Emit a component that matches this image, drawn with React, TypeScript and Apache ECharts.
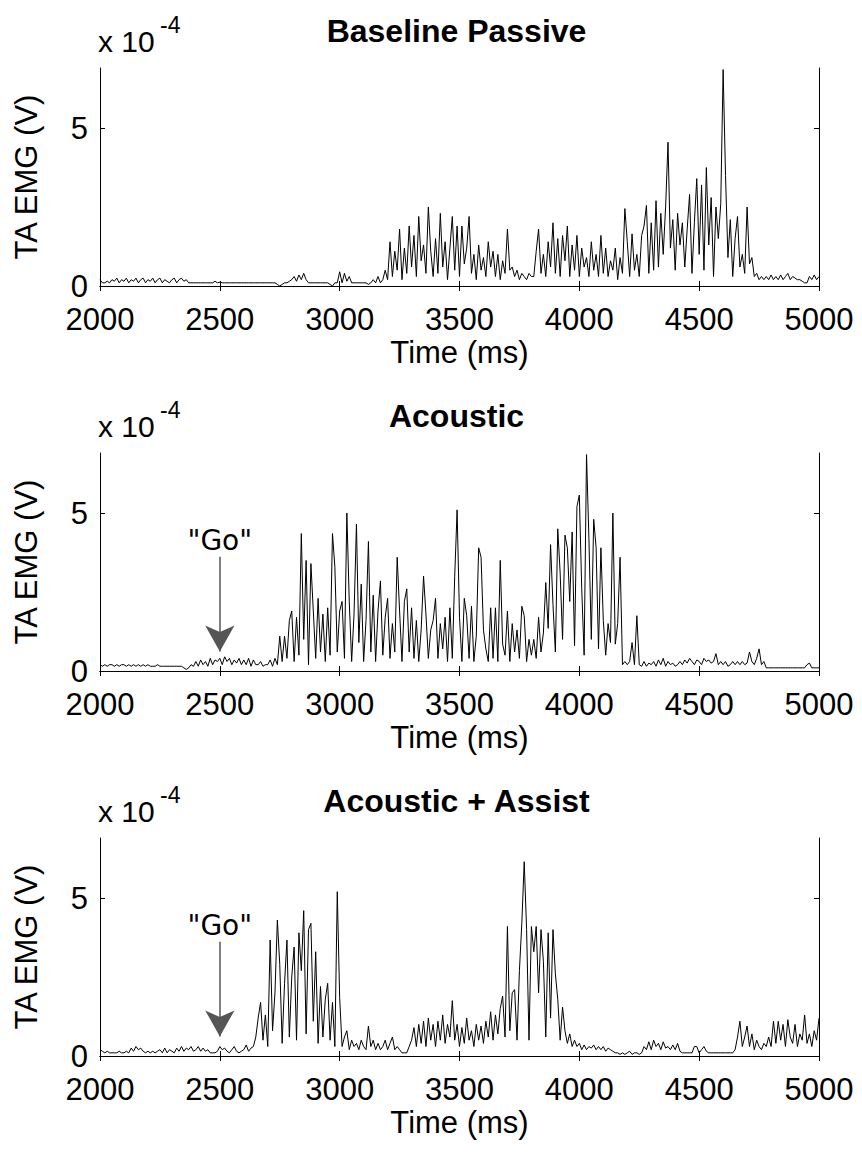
import React, { useEffect, useRef } from "react";
import * as echarts from "echarts";

const timeStart = 2000;
const timeStep = 10;
const xTicks = [2000, 2500, 3000, 3500, 4000, 4500, 5000];
const yTicks = [0, 5];
const yMax = 6.9;
const panelTitles = ["Baseline Passive", "Acoustic", "Acoustic + Assist"];
const goTime = 2500;
const goPanels = [false, true, true];

// TA EMG in units of 1e-4 V, sampled every 10 ms from 2000 to 5000 ms
const baselinePassive = [
  0.2, 0.1, 0.1, 0.15, 0.1, 0.2, 0.15, 0.25, 0.1, 0.2,
  0.15, 0.25, 0.1, 0.2, 0.15, 0.25, 0.1, 0.2, 0.25, 0.1,
  0.2, 0.15, 0.25, 0.1, 0.2, 0.25, 0.1, 0.2, 0.15, 0.1,
  0.2, 0.25, 0.1, 0.2, 0.25, 0.15, 0.2, 0.1, 0.1, 0.1,
  0.1, 0.1, 0.1, 0.1, 0.1, 0.1, 0.1, 0.1, 0.15, 0.1,
  0.12, 0.1, 0.1, 0.1, 0.1, 0.1, 0.1, 0.1, 0.1, 0.1,
  0.1, 0.1, 0.1, 0.1, 0.1, 0.1, 0.1, 0.1, 0.1, 0.1,
  0.1, 0.1, 0.1, 0.1, 0.05, 0.0, 0.05, 0.1, 0.1, 0.15,
  0.2, 0.3, 0.15, 0.35, 0.2, 0.4, 0.2, 0.1, 0.1, 0.1,
  0.1, 0.1, 0.1, 0.1, 0.1, 0.1, 0.05, 0.0, 0.1, 0.1,
  0.45, 0.1, 0.4, 0.15, 0.3, 0.1, 0.1, 0.1, 0.1, 0.1,
  0.1, 0.1, 0.05, 0.1, 0.2, 0.1, 0.3, 0.1, 0.2, 0.5,
  0.2, 1.4, 0.3, 1.1, 0.5, 1.8, 0.2, 1.2, 0.4, 1.9,
  0.6, 1.6, 0.3, 2.2, 0.8, 1.3, 0.4, 2.5, 1.1, 0.3,
  1.5, 0.4, 2.3, 0.6, 1.4, 0.2, 1.2, 2.2, 0.5, 1.9,
  0.3, 1.9, 0.7, 1.2, 2.2, 0.4, 1.0, 0.2, 1.3, 0.5,
  0.9, 0.3, 1.4, 0.6, 1.1, 0.3, 1.0, 0.2, 0.8, 0.4,
  1.8, 0.5, 0.6, 0.3, 0.5, 0.2, 0.4, 0.3, 0.2, 0.4,
  0.3, 0.3, 1.1, 1.8, 0.4, 1.0, 0.3, 1.4, 0.6, 2.0,
  0.4, 1.5, 0.3, 1.6, 0.8, 1.9, 0.3, 1.3, 0.5, 1.6,
  0.3, 1.2, 0.6, 0.9, 0.3, 1.4, 0.5, 1.0, 0.3, 1.6,
  0.4, 1.2, 0.3, 0.8, 0.5, 1.2, 0.2, 0.9, 0.4, 2.45,
  1.4, 0.3, 1.65, 0.5, 1.0, 0.3, 1.6, 1.9, 2.55, 0.4,
  2.0, 0.5, 2.7, 0.6, 2.3, 1.0, 2.5, 4.55, 1.2, 2.1,
  0.5, 2.3, 1.3, 2.0, 0.6, 1.8, 2.9, 0.4, 2.0, 3.4,
  1.0, 3.2, 0.5, 3.75, 1.3, 2.8, 0.3, 2.5, 1.5, 2.6,
  6.85, 3.5, 0.9, 2.1, 0.3, 1.5, 2.2, 0.6, 1.0, 0.4,
  2.5, 0.7, 0.9, 0.3, 0.4, 0.2, 0.3, 0.2, 0.3, 0.2,
  0.35, 0.2, 0.3, 0.2, 0.35, 0.2, 0.3, 0.4, 0.2, 0.3,
  0.25, 0.2, 0.2, 0.15, 0.1, 0.1, 0.3, 0.2, 0.35, 0.2,
  0.3,
];

const acoustic = [
  0.2, 0.15, 0.2, 0.15, 0.2, 0.2, 0.15, 0.2, 0.15, 0.2,
  0.2, 0.15, 0.2, 0.15, 0.2, 0.15, 0.2, 0.15, 0.2, 0.15,
  0.2, 0.15, 0.15, 0.15, 0.2, 0.15, 0.15, 0.15, 0.15, 0.15,
  0.15, 0.15, 0.15, 0.15, 0.15, 0.1, 0.05, 0.1, 0.2, 0.15,
  0.3, 0.15, 0.35, 0.2, 0.3, 0.15, 0.4, 0.2, 0.35, 0.3,
  0.4, 0.2, 0.45, 0.3, 0.4, 0.2, 0.35, 0.25, 0.4, 0.2,
  0.35, 0.2, 0.4, 0.15, 0.35, 0.2, 0.2, 0.3, 0.15, 0.2,
  0.2, 0.35, 0.15, 0.4, 0.2, 1.1, 0.3, 1.1, 0.4, 1.6,
  1.9, 0.3, 1.7, 0.5, 4.35, 1.0, 3.5, 0.2, 3.4, 1.9,
  0.4, 2.3, 0.6, 1.8, 0.3, 2.0, 0.5, 4.35, 3.3, 0.6,
  1.9, 2.2, 0.4, 5.0, 2.2, 0.3, 1.8, 4.65, 0.9, 2.75,
  0.3, 1.6, 4.1, 0.6, 2.4, 0.3, 1.9, 2.85, 0.5, 1.7,
  2.3, 0.4, 1.5, 0.6, 3.6, 1.9, 0.3, 2.2, 2.6, 0.6,
  2.0, 0.4, 1.6, 0.3, 1.3, 3.0, 1.8, 0.4, 1.3, 1.6,
  2.3, 0.4, 1.5, 0.7, 1.7, 0.3, 2.0, 0.4, 3.0, 5.1,
  1.7, 0.3, 2.3, 1.75, 0.4, 2.05, 0.3, 1.1, 3.9, 3.6,
  1.3, 0.7, 0.3, 2.0, 0.4, 2.0, 0.3, 3.5, 0.85, 0.5,
  1.9, 0.3, 1.5, 0.6, 1.3, 0.4, 2.05, 1.75, 0.3, 1.0,
  0.5, 1.0, 0.4, 1.7, 0.6, 1.2, 2.8, 1.35, 4.0, 2.1,
  0.6, 4.5, 3.1, 1.0, 4.3, 3.9, 2.2, 4.4, 0.8, 5.2,
  5.57, 2.6, 0.5, 6.85, 4.2, 1.0, 4.8, 3.9, 0.7, 3.9,
  1.6, 0.5, 1.5, 0.9, 5.0, 0.85, 1.5, 3.6, 0.2, 0.3,
  0.2, 0.3, 0.9, 0.2, 1.75, 0.2, 0.15, 0.3, 0.15, 0.25,
  0.2, 0.3, 0.15, 0.35, 0.2, 0.4, 0.15, 0.3, 0.2, 0.25,
  0.15, 0.2, 0.3, 0.2, 0.35, 0.25, 0.4, 0.3, 0.2, 0.35,
  0.3, 0.2, 0.4, 0.3, 0.35, 0.25, 0.3, 0.55, 0.2, 0.3,
  0.2, 0.3, 0.15, 0.2, 0.3, 0.2, 0.3, 0.2, 0.3, 0.2,
  0.25, 0.6, 0.3, 0.2, 0.4, 0.7, 0.2, 0.3, 0.1, 0.1,
  0.1, 0.1, 0.1, 0.1, 0.1, 0.1, 0.1, 0.1, 0.1, 0.1,
  0.1, 0.1, 0.1, 0.1, 0.1, 0.2, 0.25, 0.1, 0.1, 0.1,
  0.1,
];

const acousticAssist = [
  0.2, 0.15, 0.1, 0.15, 0.1, 0.1, 0.1, 0.1, 0.15, 0.1,
  0.1, 0.15, 0.1, 0.25, 0.15, 0.3, 0.2, 0.25, 0.15, 0.1,
  0.15, 0.1, 0.15, 0.1, 0.15, 0.2, 0.1, 0.25, 0.1, 0.2,
  0.15, 0.1, 0.25, 0.15, 0.3, 0.15, 0.25, 0.2, 0.3, 0.15,
  0.2, 0.3, 0.15, 0.25, 0.15, 0.2, 0.1, 0.1, 0.1, 0.15,
  0.3, 0.2, 0.25, 0.15, 0.1, 0.2, 0.3, 0.15, 0.1, 0.15,
  0.2, 0.35, 0.15, 0.25, 0.3, 0.6, 1.2, 1.7, 0.5, 1.3,
  0.3, 3.67, 0.8, 2.0, 4.3, 2.9, 0.4, 2.3, 3.67, 0.6,
  2.5, 3.45, 0.5, 3.9, 2.7, 4.6, 0.7, 4.0, 4.2, 1.1,
  3.3, 0.4, 2.2, 0.6, 1.8, 2.3, 0.5, 1.7, 0.3, 5.2,
  1.85, 0.3, 0.6, 0.8, 0.2, 0.5, 0.3, 0.4, 0.2, 0.5,
  0.3, 0.2, 0.95, 0.3, 0.5, 0.2, 0.4, 0.2, 0.3, 0.5,
  0.2, 0.4, 0.6, 0.2, 0.3, 0.2, 0.1, 0.1, 0.1, 0.3,
  0.5, 0.9, 0.3, 1.0, 0.4, 1.1, 0.3, 1.2, 0.5, 1.0,
  0.3, 1.1, 0.5, 1.3, 0.4, 1.0, 0.6, 1.75, 0.5, 1.0,
  0.3, 0.9, 0.4, 1.2, 0.5, 0.8, 0.3, 1.0, 0.5, 0.95,
  0.4, 1.1, 0.6, 1.4, 0.5, 1.3, 0.7, 1.5, 1.9, 0.6,
  4.1, 0.8, 2.0, 2.1, 0.5, 2.7, 4.2, 6.15, 4.0, 0.5,
  4.1, 3.3, 4.1, 2.0, 4.0, 3.0, 0.6, 3.9, 1.2, 4.0,
  2.6, 1.8, 0.5, 1.55, 0.8, 0.4, 0.7, 0.3, 0.5, 0.3,
  0.4, 0.2, 0.35, 0.2, 0.3, 0.25, 0.35, 0.2, 0.3, 0.2,
  0.3, 0.15, 0.25, 0.2, 0.15, 0.1, 0.1, 0.05, 0.1, 0.05,
  0.1, 0.15, 0.05, 0.1, 0.1, 0.05, 0.1, 0.3, 0.2, 0.45,
  0.2, 0.5, 0.3, 0.4, 0.2, 0.45, 0.25, 0.3, 0.2, 0.35,
  0.2, 0.4, 0.15, 0.1, 0.1, 0.1, 0.1, 0.1, 0.3, 0.3,
  0.1, 0.2, 0.3, 0.15, 0.1, 0.1, 0.1, 0.1, 0.1, 0.1,
  0.1, 0.1, 0.1, 0.1, 0.1, 0.2, 0.6, 1.1, 0.3, 0.6,
  0.95, 0.3, 0.7, 0.2, 0.5, 0.3, 0.2, 0.4, 0.3, 0.6,
  0.3, 1.1, 0.4, 1.1, 0.5, 1.0, 0.3, 1.15, 0.6, 0.4,
  1.0, 0.3, 0.7, 0.5, 1.3, 0.4, 0.7, 0.3, 0.8, 0.5,
  1.2,
];

const panelData = [baselinePassive, acoustic, acousticAssist];

const FONT = '"Liberation Sans", Arial, Helvetica, sans-serif';
const GRID_LEFT = 100;
const GRID_WIDTH = 719;
const GRID_HEIGHT = 218;
const GRID_TOPS = [68, 453, 838];
const TICK_FS = 31;

export default function App() {
  const ref = useRef<HTMLDivElement>(null);

  useEffect(() => {
    if (!ref.current) return;
    const chart = echarts.init(ref.current, undefined, { renderer: "svg" });

    const grids: any[] = [];
    const xAxes: any[] = [];
    const yAxes: any[] = [];
    const series: any[] = [];
    const graphics: any[] = [];

    panelData.forEach((vals, i) => {
      const top = GRID_TOPS[i];
      grids.push({ left: GRID_LEFT, top, width: GRID_WIDTH, height: GRID_HEIGHT, containLabel: false });
      const axisLine = { show: true, lineStyle: { color: "#000", width: 1 } };
      const tick = { show: true, inside: true, length: 5, lineStyle: { color: "#000", width: 1 } };
      xAxes.push({
        type: "value", gridIndex: i, position: "bottom",
        min: xTicks[0], max: xTicks[xTicks.length - 1], interval: xTicks[1] - xTicks[0],
        axisLine, axisTick: tick, splitLine: { show: false },
        axisLabel: {
          color: "#000", fontSize: TICK_FS, fontFamily: FONT, margin: 18,
          formatter: (v: number) => String(v),
        },
        name: "Time (ms)", nameLocation: "middle", nameGap: 51,
        nameTextStyle: { color: "#000", fontSize: TICK_FS, fontFamily: FONT },
      });
      xAxes.push({
        type: "value", gridIndex: i, position: "top",
        min: xTicks[0], max: xTicks[xTicks.length - 1], interval: xTicks[1] - xTicks[0],
        axisLine, axisTick: tick, axisLabel: { show: false }, splitLine: { show: false },
      });
      yAxes.push({
        type: "value", gridIndex: i, position: "left", min: 0, max: yMax,
        axisLine, axisTick: { ...tick, customValues: yTicks }, splitLine: { show: false },
        axisLabel: {
          color: "#000", fontSize: TICK_FS, fontFamily: FONT, margin: 12,
          lineHeight: 22, customValues: yTicks,
        },
        name: "TA EMG (V)", nameLocation: "middle", nameGap: 58, nameRotate: 90,
        nameTextStyle: { color: "#000", fontSize: TICK_FS, fontFamily: FONT },
      });
      yAxes.push({
        type: "value", gridIndex: i, position: "right", min: 0, max: yMax,
        axisLine, axisTick: { ...tick, customValues: yTicks }, axisLabel: { show: false }, splitLine: { show: false },
      });

      const s: any = {
        type: "line",
        xAxisIndex: 2 * i,
        yAxisIndex: 2 * i,
        showSymbol: false,
        symbol: "none",
        lineStyle: { color: "#000", width: 1 },
        data: vals.map((v, k) => [timeStart + k * timeStep, v]),
        silent: true,
      };
      if (goPanels[i]) {
        s.markLine = {
          silent: true,
          symbol: ["none", "arrow"],
          symbolSize: [22, 26],
          label: { show: false },
          lineStyle: { color: "#555", width: 1.5, type: "solid" },
          data: [[{ coord: [goTime, 3.62] }, { coord: [goTime, 0.62] }]],
        };
        s.markPoint = {
          silent: true,
          symbol: "circle",
          symbolSize: 1,
          itemStyle: { color: "rgba(0,0,0,0)" },
          label: {
            show: true, position: "inside", formatter: '"Go"',
            fontSize: 28, fontFamily: '"DejaVu Sans", Verdana, sans-serif', color: "#000",
          },
          data: [{ coord: [goTime, 4.12] }],
        };
      }
      series.push(s);

      graphics.push({
        type: "text",
        style: {
          text: panelTitles[i], x: GRID_LEFT + GRID_WIDTH / 2 - 3, y: top - 37,
          align: "center", verticalAlign: "middle",
          fontSize: 32, fontWeight: "bold", fontFamily: FONT, fill: "#000",
        },
      });
      graphics.push({
        type: "text",
        style: {
          text: "x 10", x: GRID_LEFT - 2, y: top - 27, align: "left", verticalAlign: "middle",
          fontSize: 30, fontFamily: FONT, fill: "#000",
        },
      });
      graphics.push({
        type: "text",
        style: {
          text: "-4", x: GRID_LEFT + 60, y: top - 43, align: "left", verticalAlign: "middle",
          fontSize: 23, fontFamily: FONT, fill: "#000",
        },
      });
    });

    chart.setOption({
      animation: false,
      backgroundColor: "#fff",
      grid: grids,
      xAxis: xAxes,
      yAxis: yAxes,
      series,
      graphic: graphics,
    });

    return () => chart.dispose();
  }, []);

  return (
    <div
      ref={ref}
      style={{ position: "absolute", left: 0, top: 0, width: 862, height: 1152 }}
    />
  );
}
